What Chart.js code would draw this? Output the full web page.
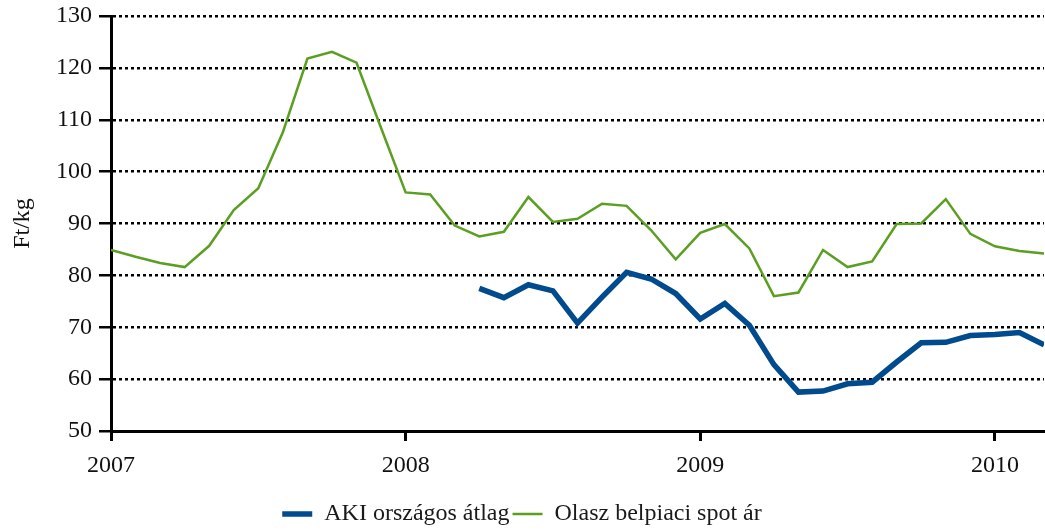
<!DOCTYPE html>
<html>
<head>
<meta charset="utf-8">
<script src="https://cdn.jsdelivr.net/npm/chart.js@4"></script>
<style>
  html, body { margin: 0; padding: 0; background: #fff; }
  #wrap { width: 1045px; height: 530px; position: relative; }
</style>
</head>
<body>
<div id="wrap"><canvas id="c"></canvas></div>
<script>
// Havi árak, Ft/kg. Az x tengely hónapokban számol 2007 januártól.
const START_YEAR = 2007;
const yearTicks = [2007, 2008, 2009, 2010];

// Olasz belpiaci spot ár: 2007 jan – 2010 márc
const olaszValues = [
  84.9, 83.6, 82.4, 81.6, 85.7, 92.6, 96.8, 107.6, 121.8, 123.1, 121.0, 108.4,
  96.0, 95.6, 89.6, 87.5, 88.4, 95.1, 90.3, 90.9, 93.8, 93.4, 88.7, 83.1,
  88.2, 89.9, 85.2, 76.0, 76.7, 84.9, 81.6, 82.7, 89.9, 90.0, 94.7, 88.0,
  85.6, 84.7, 84.2,
];
const olaszStart = 0;

// AKI országos átlag: 2008 ápr – 2010 márc
const akiValues = [
  77.5, 75.7, 78.2, 77.0, 70.8, 75.8, 80.6, 79.3, 76.5,
  71.6, 74.6, 70.4, 62.8, 57.5, 57.7, 59.1, 59.4, 63.3, 67.0, 67.1, 68.4,
  68.6, 69.0, 66.6,
];
const akiStart = 15;

const FONT = { family: "'Liberation Serif', 'DejaVu Serif', serif", size: 24 };
const toPoints = (vals, start) => vals.map((v, i) => ({ x: start + i, y: v }));

new Chart(document.getElementById("c"), {
  type: "line",
  data: {
    datasets: [
      { label: "AKI országos átlag", data: toPoints(akiValues, akiStart),
        borderColor: "#004b8d", backgroundColor: "#004b8d", borderWidth: 5.5,
        pointRadius: 0, tension: 0, borderJoinStyle: "miter" },
      { label: "Olasz belpiaci spot ár", data: toPoints(olaszValues, olaszStart),
        borderColor: "#5a9f22", backgroundColor: "#5a9f22", borderWidth: 2.5,
        pointRadius: 0, tension: 0 },
    ],
  },
  options: {
    responsive: true, maintainAspectRatio: false, animation: false,
    layout: { padding: { top: 16, right: 1, bottom: -6, left: 0 } },
    plugins: {
      tooltip: { enabled: false },
      legend: {
        position: "bottom",
        labels: {
          usePointStyle: true, pointStyle: "line", pointStyleWidth: 30,
          font: FONT, color: "#1a1a1a", padding: 3,
        },
      },
    },
    scales: {
      x: {
        type: "linear", min: 0, max: 38,
        afterBuildTicks: (s) => { s.ticks = yearTicks.map((y) => ({ value: (y - START_YEAR) * 12 })); },
        afterFit: (s) => { s.height = 68; },
        ticks: { font: FONT, color: "#111", padding: 10, maxRotation: 0,
          callback: (v) => START_YEAR + v / 12 },
        grid: { drawOnChartArea: false, color: "#000", tickLength: 10, tickWidth: 3 },
        border: { color: "#000", width: 3 },
      },
      y: {
        min: 50, max: 130,
        afterFit: (s) => { s.width = 111; s.paddingTop = 0; s.paddingBottom = 0; },
        ticks: { stepSize: 10, font: FONT, color: "#111", padding: 7 },
        grid: { color: "#000", lineWidth: 2.5, tickBorderDash: [],
          tickLength: 12, tickWidth: 2.5, tickColor: "#000" },
        border: { color: "#000", width: 3, dash: [3, 3] },
        title: { display: true, text: "Ft/kg", font: FONT, color: "#111", padding: { top: 8, bottom: 0 } },
      },
    },
  },
});
</script>
</body>
</html>
